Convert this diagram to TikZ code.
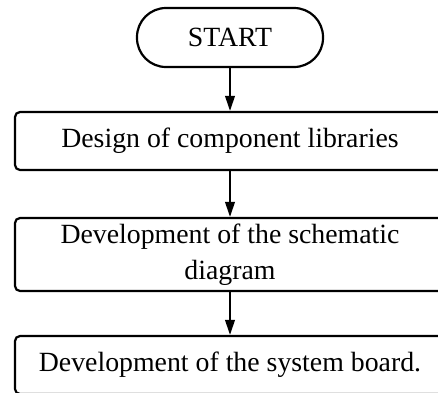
\documentclass[tikz,border=0pt]{standalone}
\usepackage{fontspec}
\setmainfont{Liberation Serif}
\usetikzlibrary{arrows.meta}
\begin{document}
\begin{tikzpicture}[x=0.5pt, y=-0.5pt,
  every node/.style={font=\fontsize{13.9pt}{17.8pt}\selectfont, inner sep=0pt, align=center},
  terminal/.style={draw, line width=1.1pt, rounded corners=14.5pt, minimum width=93pt, minimum height=29.5pt},
  process/.style={draw, line width=1.1pt, rounded corners=2.5pt, minimum width=215pt},
  flow/.style={line width=1pt, -{Triangle[length=7.5pt, width=4.8pt]}}]
  \clip (0,0) rectangle (438,392);
  \useasboundingbox (0,0) rectangle (438,392);
  \node[terminal] (start) at (230,37.5) {START};
  \node[process, minimum height=29pt] (lib) at (230,141) {Design of component libraries};
  \node[process, minimum height=36.5pt] (sch) at (230,254.5) {Development of the schematic\\diagram};
  \node[process, minimum height=29pt] (board) at (230,365) {Development of the system board.};
  \draw[flow] (start) -- (lib);
  \draw[flow] (lib) -- (sch);
  \draw[flow] (sch) -- (board);
\end{tikzpicture}
\end{document}
